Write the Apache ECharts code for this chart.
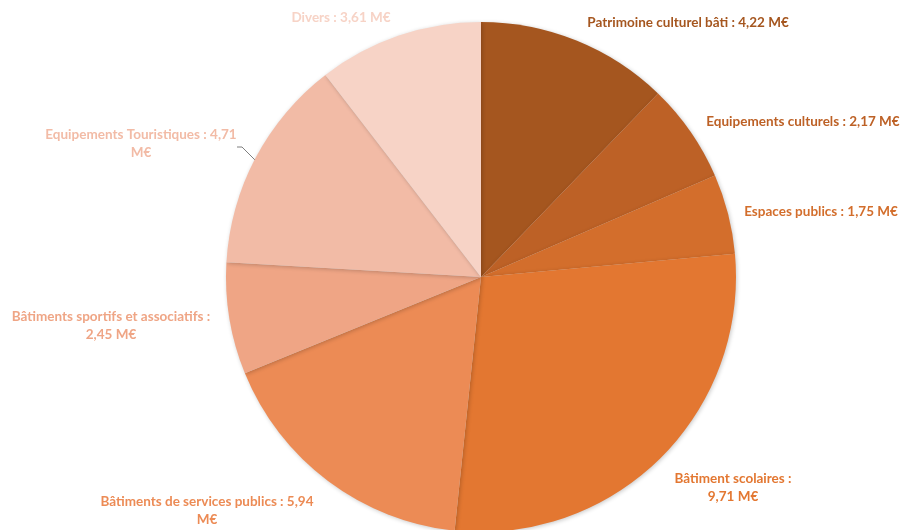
<!DOCTYPE html>
<html>
<head>
<meta charset="utf-8">
<script src="https://cdn.jsdelivr.net/npm/echarts@6/dist/echarts.min.js"></script>
<style>html,body{margin:0;padding:0;background:#fff}#c{width:902px;height:530px}</style>
</head>
<body>
<div id="c"></div>
<script>
const categories = [
  "Patrimoine culturel bâti",
  "Equipements culturels",
  "Espaces publics",
  "Bâtiment scolaires",
  "Bâtiments de services publics",
  "Bâtiments sportifs et associatifs",
  "Equipements Touristiques",
  "Divers"
];
const values = [4.22, 2.17, 1.75, 9.71, 5.94, 2.45, 4.71, 3.61];
const colors = ["#A5561F", "#BD6126", "#D36E2C", "#E37731", "#EC8B55", "#EFA585", "#F2BBA6", "#F7D3C6"];
// where the label text breaks: 0 = no break, 1 = before value, 2 = before unit
const labelBreaks = [0, 0, 0, 1, 2, 1, 2, 0];
// label anchor points (label layout only)
const labelAnchors = [[688, 23], [803, 122], [821, 212], [733, 488], [207, 511], [111, 326], [141, 144], [341, 18]];
// leader line for the one label that has one
const leaderLines = {6: [[256, 161], [242, 147], [237, 147]]};

function fmt(v) { return v.toFixed(2).replace('.', ','); }

const chart = echarts.init(document.getElementById('c'), null, {renderer: 'canvas'});
const data = categories.map((name, i) => ({
  name: name,
  value: values[i],
  itemStyle: {color: colors[i]},
  label: {color: colors[i]},
  labelLine: {show: !!leaderLines[i]}
}));

chart.setOption({
  animation: false,
  series: [{
    type: 'pie',
    center: [481, 277],
    radius: [0, 255],
    startAngle: 90,
    clockwise: true,
    data: data,
    itemStyle: {
      borderWidth: 0,
      shadowColor: 'rgba(0,0,0,0.22)',
      shadowBlur: 4,
      shadowOffsetX: 1,
      shadowOffsetY: 1
    },
    label: {
      show: true,
      position: 'outside',
      overflow: 'none',
      fontFamily: 'Lato, "Open Sans", sans-serif',
      fontWeight: 'bold',
      fontSize: 13.5,
      lineHeight: 18,
      align: 'center',
      formatter: function (p) {
        const i = p.dataIndex;
        const b = labelBreaks[i];
        const v = fmt(p.value);
        if (b === 1) return p.name + ' :\n' + v + ' M€';
        if (b === 2) return p.name + ' : ' + v + '\nM€';
        return p.name + ' : ' + v + ' M€';
      }
    },
    labelLine: {
      lineStyle: {color: '#7F7F7F', width: 1}
    },
    labelLayout: function (params) {
      const i = params.dataIndex;
      const a = labelAnchors[i];
      const r = {x: a[0], y: a[1], align: 'center', verticalAlign: 'middle', width: 400};
      if (leaderLines[i]) r.labelLinePoints = leaderLines[i];
      return r;
    }
  }]
});
</script>
</body>
</html>
